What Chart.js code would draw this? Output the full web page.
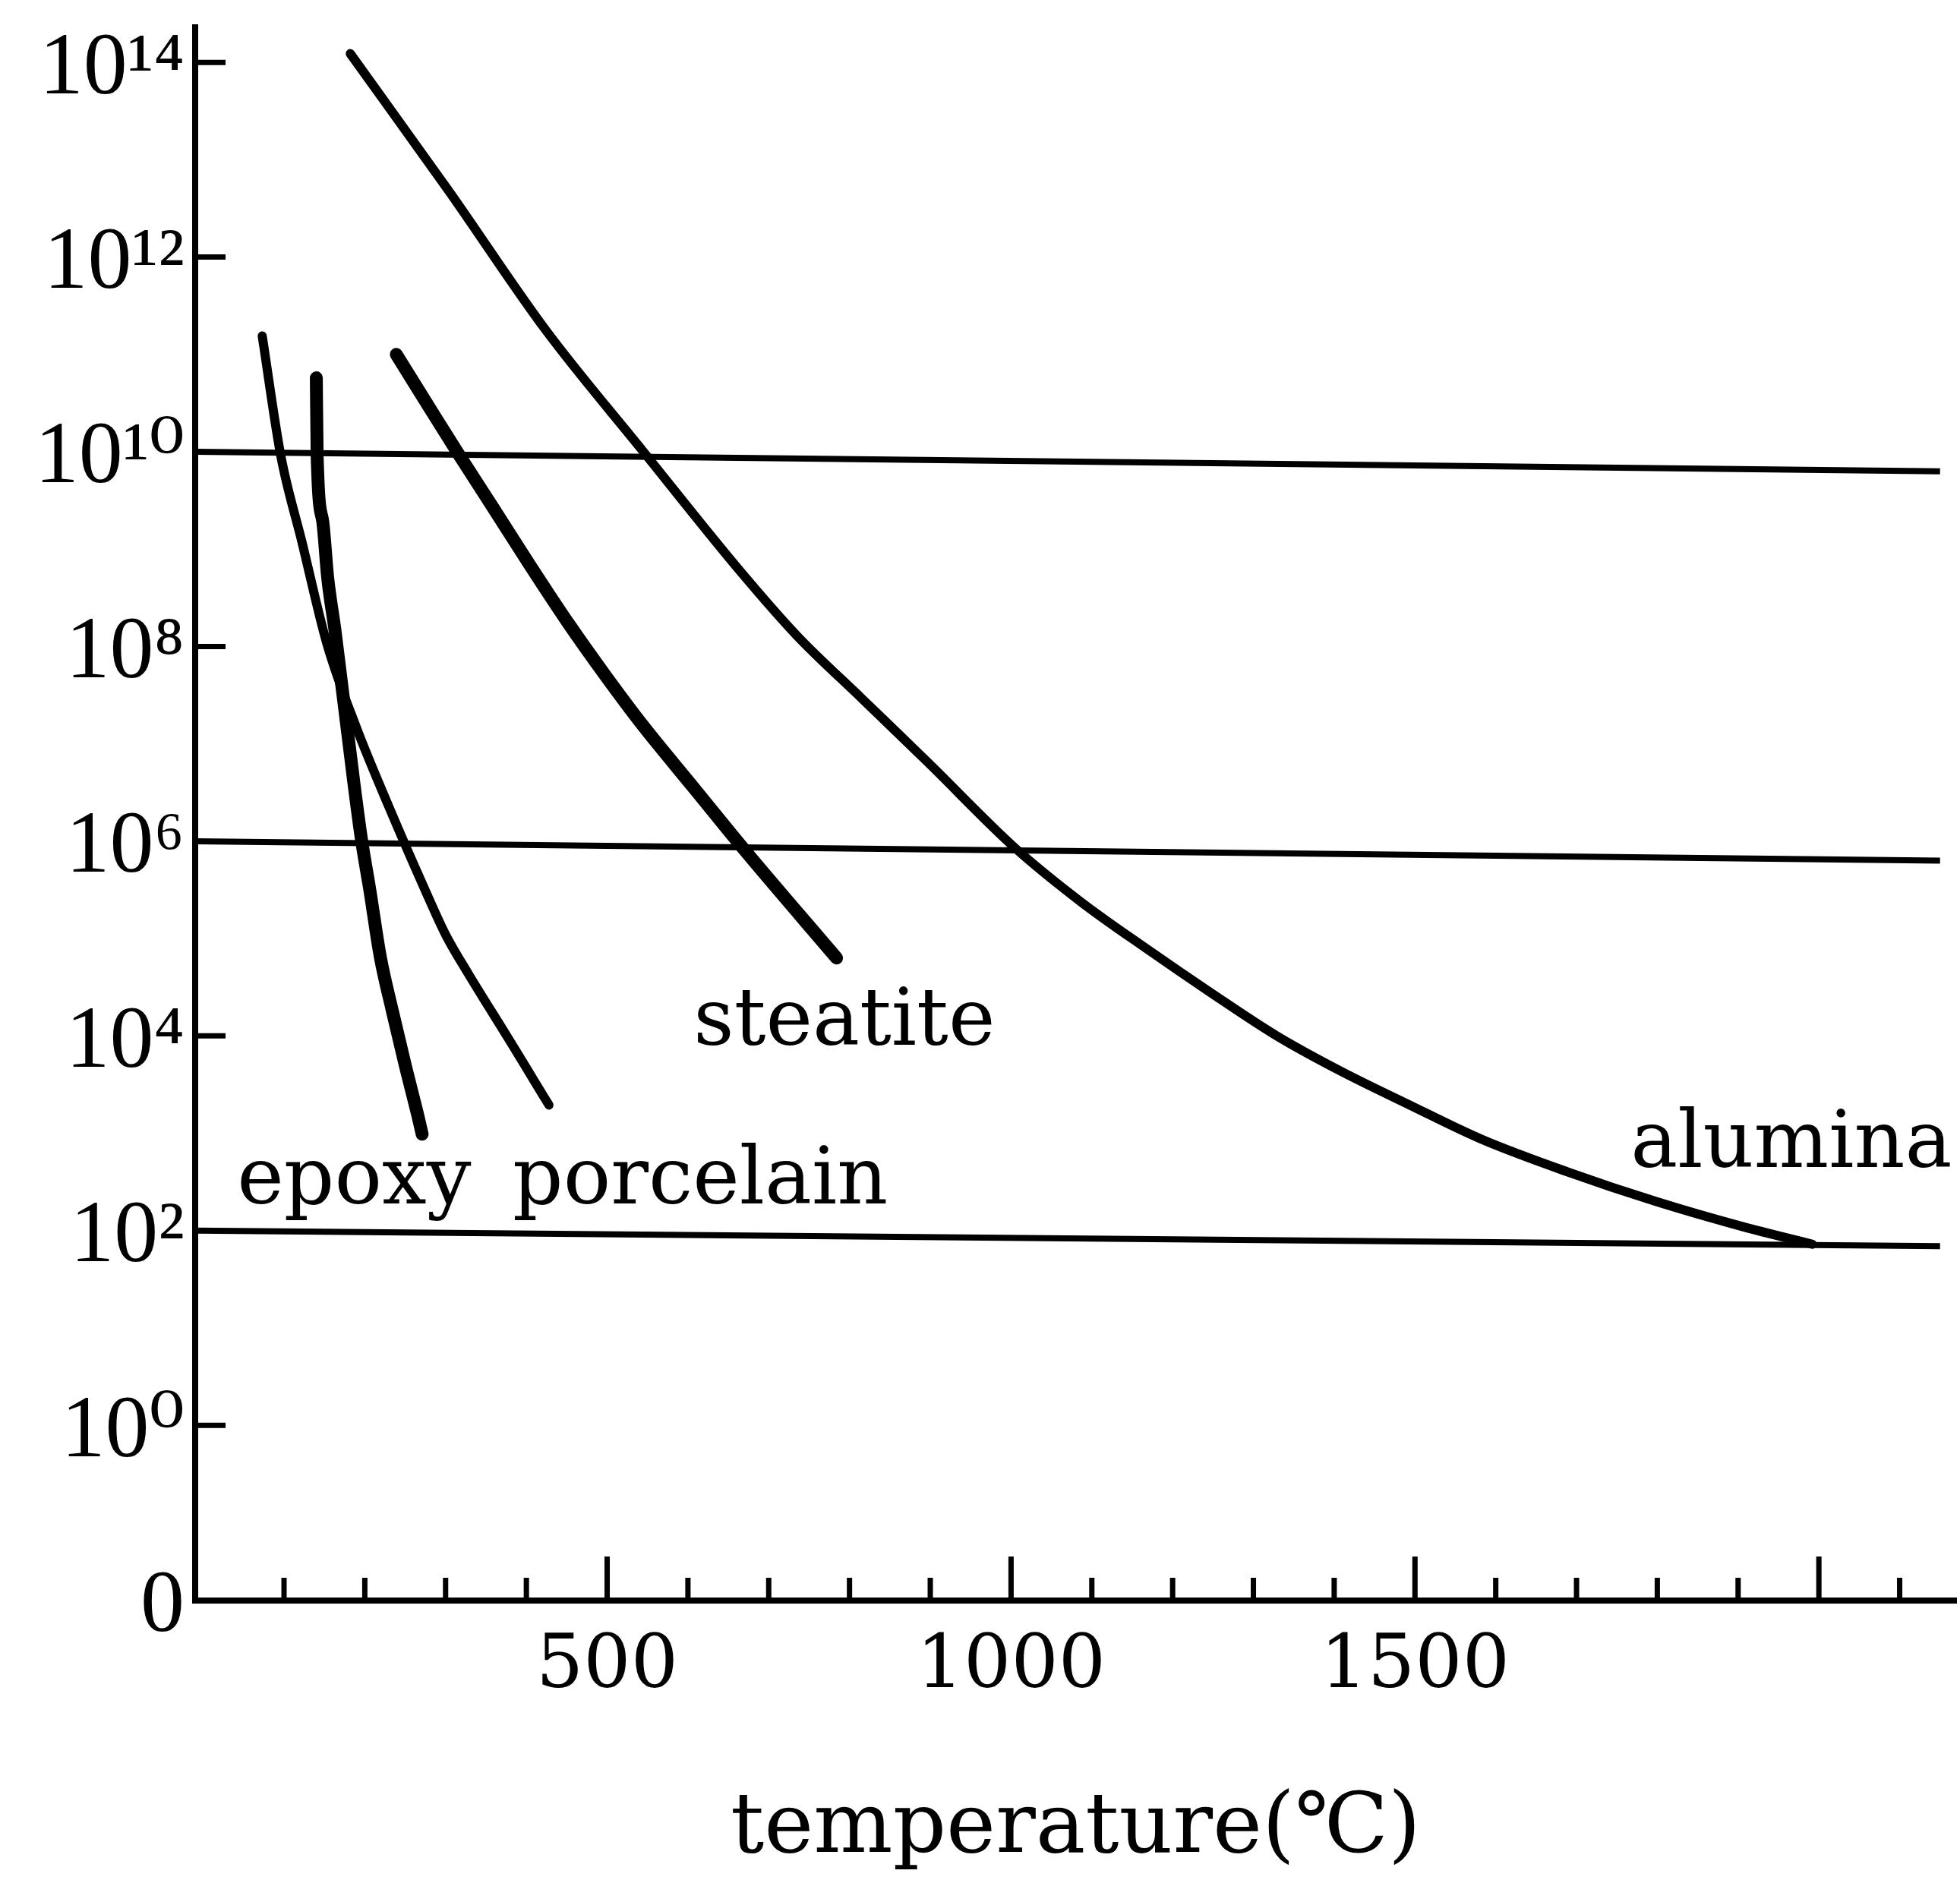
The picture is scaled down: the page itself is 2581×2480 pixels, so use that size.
<!DOCTYPE html>
<html>
<head>
<meta charset="utf-8">
<script src="https://cdn.jsdelivr.net/npm/chart.js@4.4.1/dist/chart.umd.min.js"></script>
<style>
  html, body { margin: 0; padding: 0; background: #fff; }
  canvas { display: block; }
</style>
</head>
<body>
<canvas id="chart" width="2581" height="2480"></canvas>
<script>
// temperature (deg C) and log10 of resistivity
const ALUMINA_T = [182, 304, 424, 544, 664, 735, 816, 897, 1005, 1086, 1167, 1248, 1329, 1410, 1491, 1582, 1690, 1798, 1906, 1992];
const ALUMINA_LOG = [14.09, 12.68, 11.25, 10.01, 8.78, 8.11, 7.46, 6.81, 5.93, 5.38, 4.90, 4.44, 4.00, 3.63, 3.30, 2.94, 2.60, 2.30, 2.04, 1.86];

const STEATITE_T = [239, 278, 315, 357, 404, 451, 498, 545, 607, 669, 784];
const STEATITE_LOG = [11.00, 10.48, 9.99, 9.45, 8.84, 8.25, 7.70, 7.18, 6.55, 5.92, 4.80];

const PORCELAIN_T = [73, 96, 122, 153, 189, 230, 274, 300, 328, 354, 381, 411, 428];
const PORCELAIN_LOG = [11.19, 9.96, 9.08, 8.03, 7.18, 6.35, 5.51, 5.04, 4.64, 4.29, 3.93, 3.52, 3.29];

const EPOXY_T = [140, 141, 148, 154, 163, 186, 196, 206, 219, 234, 250, 266, 271];
const EPOXY_LOG = [10.76, 9.96, 9.28, 8.71, 8.17, 6.63, 6.01, 5.51, 4.82, 4.26, 3.70, 3.17, 2.99];

// horizontal guide lines (left end, right end)
const GUIDE_T = [-10, 2150];
const GUIDE_LEFT = [10, 6, 2];
const GUIDE_RIGHT = [9.8, 5.8, 1.84];

// axes
const Y_TICKS = [-1.8, 0, 2, 4, 6, 8, 10, 12, 14];
const Y_LABELS = ['0', '10⁰', '10²', '10⁴', '10⁶', '10⁸', '10¹⁰', '10¹²', '10¹⁴'];
const Y_MARKS = [0, 4, 8, 12, 14];
const X_LABEL_TICKS = [500, 1000, 1500];
const X_MARKS = [100, 200, 300, 400, 500, 600, 700, 800, 900, 1000, 1100, 1200, 1300, 1400, 1500, 1600, 1700, 1800, 1900, 2000, 2100];
const X_MAJOR = [500, 1000, 1500, 2000];

// curve names and where they sit
const NAMES = ['epoxy', 'porcelain', 'steatite', 'alumina'];
const NAME_T = [42, 383, 607, 1767];
const NAME_LOG = [2.28, 2.28, 3.91, 2.65];

const pts = (xs, ys) => xs.map((x, i) => ({ x, y: ys[i] }));

const curve = (label, xs, ys, width) => ({
  label,
  data: pts(xs, ys),
  borderColor: '#000',
  borderWidth: width,
  borderCapStyle: 'round',
  borderJoinStyle: 'round',
  pointRadius: 0,
  cubicInterpolationMode: 'monotone',
  fill: false,
});

const guides = GUIDE_LEFT.map((v, i) => ({
  label: 'guide' + i,
  data: pts(GUIDE_T, [v, GUIDE_RIGHT[i]]),
  borderColor: '#000',
  borderWidth: 8,
  pointRadius: 0,
  fill: false,
}));

// inward tick marks on both axes
const innerTicks = {
  id: 'innerTicks',
  afterDatasetsDraw(chart) {
    const { ctx, chartArea, scales: { x, y } } = chart;
    ctx.save();
    ctx.strokeStyle = '#000';
    ctx.lineWidth = 7;
    ctx.beginPath();
    X_MARKS.forEach((v) => {
      const px = x.getPixelForValue(v);
      const len = X_MAJOR.includes(v) ? 58 : 30;
      ctx.moveTo(px, chartArea.bottom);
      ctx.lineTo(px, chartArea.bottom - len);
    });
    Y_MARKS.forEach((v) => {
      const py = y.getPixelForValue(v);
      ctx.moveTo(chartArea.left, py);
      ctx.lineTo(chartArea.left + 40, py);
    });
    ctx.stroke();
    ctx.restore();
  },
};

// curve names written next to the lines
const curveNames = {
  id: 'curveNames',
  afterDatasetsDraw(chart) {
    const { ctx, scales: { x, y } } = chart;
    ctx.save();
    ctx.fillStyle = '#000';
    ctx.font = '104px "DejaVu Serif"';
    ctx.textAlign = 'left';
    ctx.textBaseline = 'alphabetic';
    NAMES.forEach((name, i) => {
      ctx.fillText(name, x.getPixelForValue(NAME_T[i]), y.getPixelForValue(NAME_LOG[i]));
    });
    ctx.restore();
  },
};

new Chart(document.getElementById('chart'), {
  type: 'line',
  data: {
    datasets: [
      ...guides,
      curve('alumina', ALUMINA_T, ALUMINA_LOG, 12),
      curve('steatite', STEATITE_T, STEATITE_LOG, 17),
      curve('porcelain', PORCELAIN_T, PORCELAIN_LOG, 12),
      curve('epoxy', EPOXY_T, EPOXY_LOG, 17),
    ],
  },
  options: {
    responsive: false,
    animation: false,
    devicePixelRatio: 1,
    layout: { padding: { top: 36, right: 5, bottom: 4, left: 0 } },
    plugins: {
      legend: { display: false },
      tooltip: { enabled: false },
    },
    scales: {
      x: {
        type: 'linear',
        min: -10,
        max: 2170,
        grid: { display: false, drawTicks: false },
        border: { display: true, color: '#000', width: 8 },
        afterBuildTicks: (scale) => {
          scale.ticks = X_LABEL_TICKS.map(v => ({ value: v }));
        },
        ticks: {
          autoSkip: false,
          maxRotation: 0,
          padding: 30,
          color: '#000',
          font: { family: '"DejaVu Serif"', size: 98, lineHeight: 1.2 },
          callback: v => String(v),
        },
        title: {
          display: true,
          text: 'temperature(℃)',
          color: '#000',
          font: { family: '"DejaVu Serif"', size: 110, lineHeight: 1.2 },
          padding: { top: 0, bottom: 0 },
        },
        afterFit: (scale) => {
          scale.height = 368;
          scale.paddingLeft = 0;
          scale.paddingRight = 0;
        },
      },
      y: {
        type: 'linear',
        min: -1.8,
        max: 14.36,
        grid: { display: false, drawTicks: false },
        border: { display: true, color: '#000', width: 8 },
        afterBuildTicks: (scale) => {
          scale.ticks = Y_TICKS.map(v => ({ value: v }));
        },
        ticks: {
          autoSkip: false,
          padding: 14,
          labelOffset: 10,
          color: '#000',
          font: { family: '"Liberation Serif", "DejaVu Serif", serif', size: 116, lineHeight: 1.2 },
          callback: (v, i) => Y_LABELS[i],
        },
        afterFit: (scale) => {
          scale.width = 257;
          scale.paddingTop = 0;
          scale.paddingBottom = 0;
        },
      },
    },
  },
  plugins: [innerTicks, curveNames],
});
</script>
</body>
</html>
